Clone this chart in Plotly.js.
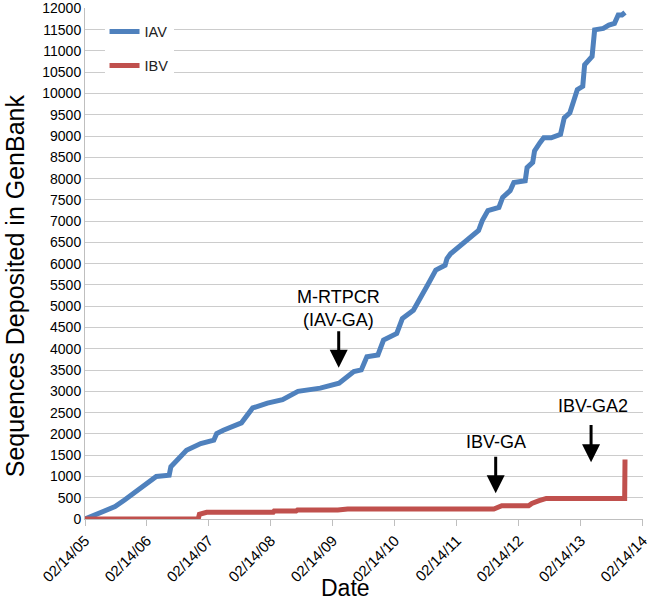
<!DOCTYPE html>
<html>
<head>
<meta charset="utf-8">
<script src="https://cdn.plot.ly/plotly-3.0.1.min.js"></script>
<style>html,body{margin:0;padding:0;background:#fff;}#chart{width:650px;height:613px;}</style>
</head>
<body>
<div id="chart"></div>
<script>
// IAV cumulative sequences
const iavDates = ['2005-02-14','2005-04-12','2005-08-10','2005-10-05','2005-12-20','2006-03-10','2006-04-10','2006-06-25','2006-07-05','2006-10-05','2006-12-28','2007-03-15','2007-04-01','2007-05-10','2007-08-25','2007-10-30','2008-01-25','2008-04-23','2008-07-23','2008-12-01','2009-03-22','2009-06-17','2009-07-31','2009-09-02','2009-11-06','2009-12-09','2010-02-25','2010-03-30','2010-06-03','2010-08-30','2010-10-13','2010-12-07','2010-12-18','2011-01-08','2011-02-21','2011-04-06','2011-05-20','2011-06-22','2011-07-14','2011-08-16','2011-10-20','2011-11-11','2011-12-25','2012-01-16','2012-03-23','2012-04-03','2012-05-06','2012-05-17','2012-06-18','2012-07-10','2012-08-23','2012-10-17','2012-11-08','2012-12-11','2013-01-02','2013-01-24','2013-02-25','2013-03-08','2013-04-21','2013-05-06','2013-06-26','2013-07-29','2013-08-31','2013-09-22','2013-10-14','2013-11-01'];
const iavValues = [0,94,290,445,680,914,1000,1031,1227,1617,1773,1852,2008,2086,2260,2610,2725,2805,3000,3075,3190,3465,3505,3815,3855,4205,4360,4710,4905,5530,5850,5965,6120,6235,6390,6545,6665,6780,7015,7250,7325,7560,7715,7910,7950,8260,8380,8650,8845,8960,8960,9040,9430,9545,9820,10090,10170,10675,10870,11495,11530,11610,11650,11845,11845,11905];

// IBV cumulative sequences
const ibvDates = ['2005-02-14','2006-12-13','2006-12-20','2007-02-01','2008-02-28','2008-03-05','2008-07-12','2008-07-20','2009-03-15','2009-05-12','2011-09-20','2011-11-06','2012-04-12','2012-05-01','2012-06-13','2012-07-25','2013-10-30','2013-11-01'];
const ibvValues = [0,0,110,156,156,188,188,211,211,235,235,312,312,367,430,484,484,1400];

// x tick labels
const tickDates = ['2005-02-14','2006-02-14','2007-02-14','2008-02-14','2009-02-14','2010-02-14','2011-02-14','2012-02-14','2013-02-14','2014-02-14'];
const tickLabels = ['02/14/05','02/14/06','02/14/07','02/14/08','02/14/09','02/14/10','02/14/11','02/14/12','02/14/13','02/14/14'];

// annotations: label, text position, arrow tip and tail
const noteTexts = ['M-RTPCR<br>(IAV-GA)','IBV-GA','IBV-GA2'];
const noteTextX = ['2009-03-20','2011-10-01','2013-04-25'];
const noteTextY = [4950,1800,2665];
const arrowX = ['2009-03-20','2011-10-01','2013-04-15'];
const arrowTipY = [3555,607,1335];
const arrowTailY = [4445,1500,2245];

const xTitle = 'Date';
const yTitle = 'Sequences Deposited in GenBank';

const FONT = 'Liberation Sans, Arial, sans-serif';

const traces = [
  {x: iavDates, y: iavValues, type:'scatter', mode:'lines', name:'IAV', legendgroup:'a',
   line:{color:'#4F81BD', width:5}},
  {x: ibvDates, y: ibvValues, type:'scatter', mode:'lines', name:'IBV', legendgroup:'b',
   line:{color:'#C0504D', width:5}}
];

const annotations = [];
for (let i = 0; i < noteTexts.length; i++) {
  annotations.push({x: noteTextX[i], y: noteTextY[i], xref:'x', yref:'y', text: noteTexts[i],
    showarrow:false, font:{family:FONT, size:18, color:'#000'}});
  annotations.push({x: arrowX[i], y: arrowTipY[i], ax: arrowX[i], ay: arrowTailY[i],
    xref:'x', yref:'y', axref:'x', ayref:'y', text:'', showarrow:true,
    arrowhead:2, arrowsize:1.2, arrowwidth:3, arrowcolor:'#000'});
}
// axis titles as rotated / positioned text
annotations.push({xref:'paper', yref:'paper', x:-0.125, y:0.456, xanchor:'center', yanchor:'middle',
  text:yTitle, textangle:-90, showarrow:false, font:{family:FONT, size:25, color:'#000'}});
annotations.push({xref:'paper', yref:'paper', x:0.467, y:-0.136, xanchor:'center', yanchor:'middle',
  text:xTitle, showarrow:false, font:{family:FONT, size:23, color:'#000'}});

const layout = {
  width:650, height:613,
  margin:{l:85, r:7, t:8, b:94},
  paper_bgcolor:'#fff', plot_bgcolor:'#fff',
  font:{family:FONT, color:'#000'},
  showlegend:true,
  legend:{x:0.035, y:0.985, xanchor:'left', yanchor:'top', bgcolor:'#fff',
    font:{family:FONT, size:14.5, color:'#222'}, tracegroupgap:12},
  xaxis:{type:'date', range:['2005-02-14','2014-02-15'], tickvals:tickDates, ticktext:tickLabels,
    tickangle:-45, tickfont:{family:FONT, size:15, color:'#000'}, ticklabeloverflow:'allow',
    showgrid:false, showline:true, linecolor:'#bfbfbf', linewidth:1,
    ticks:'outside', ticklen:6, tickcolor:'#bfbfbf', zeroline:false, automargin:false},
  yaxis:{range:[0,12010], dtick:500, tick0:0, tickformat:'d', tickfont:{family:FONT, size:14, color:'#000'},
    ticklabeloverflow:'allow',
    showgrid:true, gridcolor:'#cccccc', gridwidth:1, automargin:false,
    showline:true, linecolor:'#bfbfbf', linewidth:1, zeroline:false, ticks:''},
  annotations: annotations
};

Plotly.newPlot('chart', traces, layout, {displayModeBar:false, staticPlot:true});
</script>
</body>
</html>
